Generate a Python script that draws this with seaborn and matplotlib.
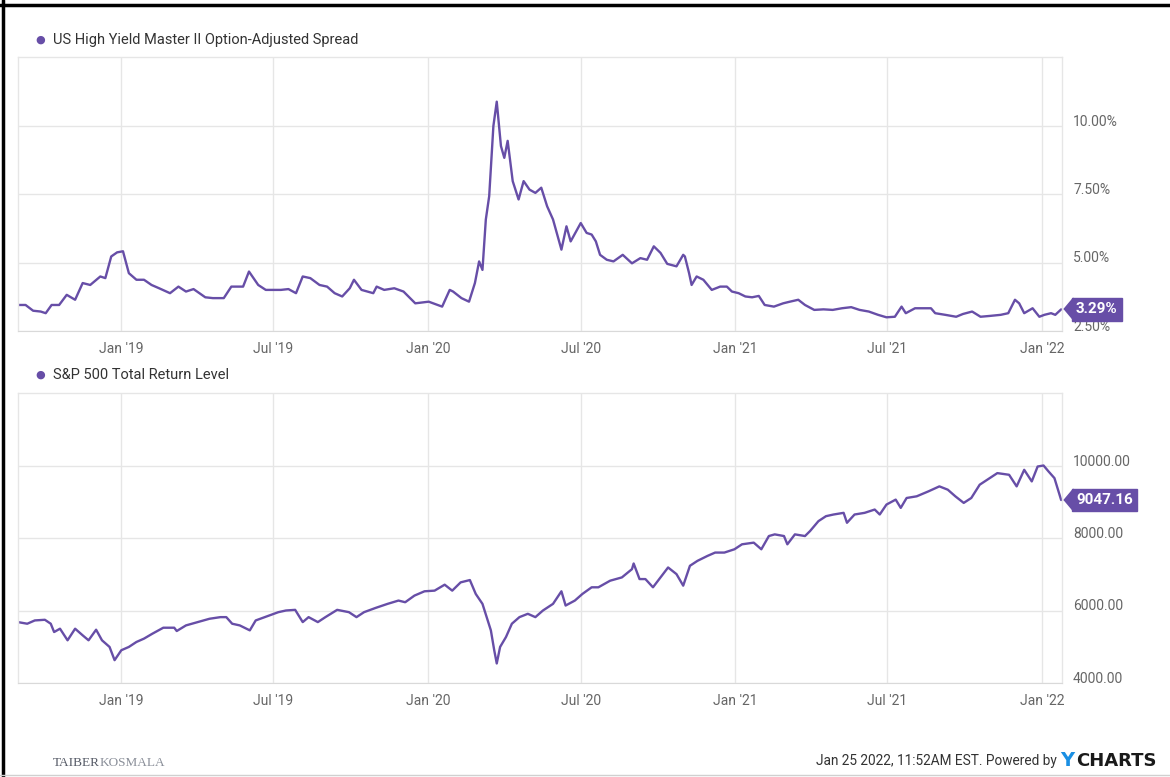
import pandas as pd
import seaborn as sns
import matplotlib.pyplot as plt
import matplotlib.dates as mdates
import matplotlib.transforms as mtransforms
from matplotlib.lines import Line2D

# --- data ---
hy_dates = [
    "2018-08-31", "2018-09-09", "2018-09-18", "2018-09-27", "2018-10-03", "2018-10-10",
    "2018-10-19", "2018-10-28", "2018-11-07", "2018-11-16", "2018-11-25", "2018-12-07",
    "2018-12-13", "2018-12-20", "2018-12-27", "2019-01-03", "2019-01-10", "2019-01-19",
    "2019-01-28", "2019-02-06", "2019-02-15", "2019-02-28", "2019-03-10", "2019-03-19",
    "2019-03-28", "2019-04-11", "2019-04-20", "2019-05-03", "2019-05-12", "2019-05-26",
    "2019-06-02", "2019-06-13", "2019-06-22", "2019-07-10", "2019-07-19", "2019-07-28",
    "2019-08-05", "2019-08-14", "2019-08-25", "2019-09-03", "2019-09-12", "2019-09-21",
    "2019-09-30", "2019-10-05", "2019-10-14", "2019-10-28", "2019-11-01", "2019-11-10",
    "2019-11-22", "2019-12-03", "2019-12-17", "2020-01-02", "2020-01-18", "2020-01-27",
    "2020-01-31", "2020-02-10", "2020-02-19", "2020-02-26", "2020-03-02", "2020-03-06",
    "2020-03-10", "2020-03-14", "2020-03-19", "2020-03-23", "2020-03-28", "2020-04-01",
    "2020-04-05", "2020-04-11", "2020-04-18", "2020-04-24", "2020-05-01", "2020-05-08",
    "2020-05-15", "2020-05-22", "2020-05-29", "2020-06-08", "2020-06-14", "2020-06-19",
    "2020-07-01", "2020-07-08", "2020-07-14", "2020-07-19", "2020-07-24", "2020-08-01",
    "2020-08-09", "2020-08-20", "2020-08-31", "2020-09-10", "2020-09-18", "2020-09-26",
    "2020-10-04", "2020-10-12", "2020-10-23", "2020-10-31", "2020-11-02", "2020-11-07",
    "2020-11-10", "2020-11-16", "2020-11-24", "2020-12-04", "2020-12-14", "2020-12-22",
    "2020-12-28", "2021-01-05", "2021-01-13", "2021-01-21", "2021-01-29", "2021-02-05",
    "2021-02-16", "2021-02-27", "2021-03-07", "2021-03-17", "2021-03-25", "2021-04-05",
    "2021-04-16", "2021-04-27", "2021-05-08", "2021-05-19", "2021-05-29", "2021-06-09",
    "2021-06-20", "2021-06-30", "2021-07-10", "2021-07-18", "2021-07-23", "2021-08-03",
    "2021-08-14", "2021-08-22", "2021-08-27", "2021-09-08", "2021-09-21", "2021-09-29",
    "2021-10-10", "2021-10-20", "2021-10-31", "2021-11-13", "2021-11-22", "2021-11-30",
    "2021-12-05", "2021-12-11", "2021-12-21", "2021-12-29", "2022-01-04", "2022-01-12",
    "2022-01-17", "2022-01-24",
]
hy_values = [
    3.45, 3.45, 3.24, 3.21, 3.15, 3.45,
    3.45, 3.82, 3.64, 4.25, 4.18, 4.49,
    4.43, 5.22, 5.37, 5.41, 4.61, 4.37,
    4.37, 4.18, 4.06, 3.88, 4.12, 3.94,
    4.03, 3.73, 3.70, 3.70, 4.12, 4.12,
    4.67, 4.18, 4.00, 4.00, 4.03, 3.88,
    4.49, 4.43, 4.18, 4.12, 3.88, 3.76,
    4.06, 4.37, 4.00, 3.88, 4.12, 4.00,
    4.06, 3.94, 3.51, 3.57, 3.39, 4.00,
    3.94, 3.70, 3.57, 4.25, 5.04, 4.73,
    6.57, 7.42, 9.98, 10.87, 9.25, 8.82,
    9.44, 7.97, 7.30, 7.97, 7.66, 7.54,
    7.73, 7.05, 6.57, 5.47, 6.32, 5.77,
    6.44, 6.08, 6.02, 5.77, 5.28, 5.10,
    5.04, 5.28, 4.97, 5.16, 5.10, 5.59,
    5.35, 4.95, 4.86, 5.28, 5.22, 4.61,
    4.18, 4.49, 4.37, 4.00, 4.12, 4.12,
    3.94, 3.88, 3.76, 3.73, 3.78, 3.45,
    3.39, 3.51, 3.57, 3.64, 3.45, 3.27,
    3.29, 3.27, 3.33, 3.37, 3.27, 3.21,
    3.09, 3.00, 3.02, 3.39, 3.15, 3.33,
    3.33, 3.33, 3.15, 3.09, 3.02, 3.12,
    3.21, 3.02, 3.05, 3.09, 3.15, 3.64,
    3.51, 3.15, 3.33, 3.02, 3.09, 3.15,
    3.09, 3.29,
]

spx_dates = [
    "2018-08-31", "2018-09-11", "2018-09-20", "2018-10-02", "2018-10-09", "2018-10-13",
    "2018-10-20", "2018-10-29", "2018-11-07", "2018-11-16", "2018-11-23", "2018-12-02",
    "2018-12-09", "2018-12-18", "2018-12-24", "2019-01-01", "2019-01-10", "2019-01-19",
    "2019-01-28", "2019-02-07", "2019-02-20", "2019-03-05", "2019-03-08", "2019-03-19",
    "2019-04-02", "2019-04-16", "2019-04-29", "2019-05-06", "2019-05-13", "2019-05-22",
    "2019-06-03", "2019-06-10", "2019-06-23", "2019-07-07", "2019-07-16", "2019-07-27",
    "2019-08-05", "2019-08-12", "2019-08-23", "2019-09-01", "2019-09-15", "2019-09-29",
    "2019-10-08", "2019-10-17", "2019-10-31", "2019-11-14", "2019-11-27", "2019-12-05",
    "2019-12-16", "2019-12-28", "2020-01-09", "2020-01-21", "2020-01-30", "2020-02-09",
    "2020-02-20", "2020-02-27", "2020-03-06", "2020-03-11", "2020-03-16", "2020-03-20",
    "2020-03-23", "2020-03-27", "2020-04-03", "2020-04-10", "2020-04-19", "2020-04-29",
    "2020-05-08", "2020-05-17", "2020-05-29", "2020-06-08", "2020-06-13", "2020-06-24",
    "2020-07-03", "2020-07-14", "2020-07-22", "2020-08-05", "2020-08-19", "2020-08-31",
    "2020-09-02", "2020-09-09", "2020-09-16", "2020-09-25", "2020-10-04", "2020-10-13",
    "2020-10-23", "2020-10-31", "2020-11-08", "2020-11-17", "2020-11-29", "2020-12-08",
    "2020-12-19", "2020-12-31", "2021-01-09", "2021-01-23", "2021-02-01", "2021-02-10",
    "2021-02-17", "2021-02-28", "2021-03-04", "2021-03-13", "2021-03-25", "2021-03-31",
    "2021-04-10", "2021-04-19", "2021-04-28", "2021-05-10", "2021-05-14", "2021-05-23",
    "2021-06-04", "2021-06-16", "2021-06-22", "2021-06-30", "2021-07-11", "2021-07-17",
    "2021-07-24", "2021-08-05", "2021-08-19", "2021-09-01", "2021-09-11", "2021-09-20",
    "2021-09-30", "2021-10-09", "2021-10-19", "2021-10-28", "2021-11-09", "2021-11-23",
    "2021-12-02", "2021-12-11", "2021-12-20", "2021-12-27", "2022-01-03", "2022-01-09",
    "2022-01-16", "2022-01-24",
]
spx_values = [
    5680, 5635, 5726, 5744, 5635, 5406,
    5498, 5178, 5498, 5315, 5178, 5470,
    5178, 4995, 4630, 4904, 4995, 5132,
    5224, 5360, 5525, 5525, 5434, 5589,
    5680, 5772, 5817, 5817, 5635, 5589,
    5452, 5726, 5836, 5954, 6000, 6018,
    5680, 5817, 5680, 5817, 6018, 5954,
    5817, 5954, 6073, 6183, 6274, 6228,
    6411, 6530, 6548, 6712, 6548, 6776,
    6840, 6457, 6183, 5817, 5452, 4904,
    4539, 4995, 5269, 5635, 5817, 5909,
    5817, 6000, 6183, 6530, 6137, 6274,
    6457, 6640, 6640, 6822, 6913, 7141,
    7297, 6867, 6867, 6640, 6913, 7187,
    7004, 6685, 7233, 7370, 7507, 7598,
    7598, 7689, 7826, 7872, 7689, 8054,
    8100, 8054, 7826, 8100, 8054, 8191,
    8465, 8602, 8648, 8694, 8420, 8648,
    8694, 8785, 8648, 8922, 9059, 8831,
    9104, 9150, 9287, 9424, 9333, 9150,
    8968, 9104, 9470, 9607, 9790, 9744,
    9424, 9881, 9561, 9972, 10000, 9835,
    9652, 9047.16,
]

hy = pd.DataFrame({"date": pd.to_datetime(hy_dates), "value": hy_values})
spx = pd.DataFrame({"date": pd.to_datetime(spx_dates), "value": spx_values})

purple = "#674ea7"
grid_c = "#e6e6e6"
label_c = "#666666"

sns.set_style("white")
plt.rcParams["font.family"] = ["Roboto", "DejaVu Sans"]

W, H = 1170, 777
fig = plt.figure(figsize=(W / 100, H / 100), dpi=100)


def box(l, t, r, b):
    return [l / W, 1 - b / H, (r - l) / W, (b - t) / H]


ax1 = fig.add_axes(box(18, 57, 1062, 331))
ax2 = fig.add_axes(box(18, 393, 1062, 683))

xmin, xmax = pd.Timestamp("2018-08-31"), pd.Timestamp("2022-01-25")

panels = [
    (ax1, hy, "US High Yield Master II Option-Adjusted Spread", (2.5, 12.5),
     [2.5, 5.0, 7.5, 10.0], lambda v: f"{v:.2f}%", f"{hy_values[-1]:.2f}%", 40),
    (ax2, spx, "S&P 500 Total Return Level", (4000, 12000),
     [4000, 6000, 8000, 10000], lambda v: f"{v:.2f}", f"{spx_values[-1]:.2f}", 375),
]

for ax, df, title, ylim, yticks, fmt, tag, title_y in panels:
    sns.lineplot(data=df, x="date", y="value", ax=ax, color=purple, linewidth=1.7)
    ax.set_xlim(xmin, xmax)
    ax.set_ylim(*ylim)
    ax.set_yticks(yticks)
    ax.set_yticklabels([fmt(v) for v in yticks])
    ax.yaxis.tick_right()
    ax.xaxis.set_major_locator(mdates.MonthLocator(bymonth=[1, 7]))
    ax.xaxis.set_major_formatter(mdates.DateFormatter("%b '%y"))
    ax.tick_params(axis="x", length=0, pad=8, labelsize=10, labelcolor=label_c)
    ax.tick_params(axis="y", length=0, pad=8, labelsize=10, labelcolor=label_c)
    for lbl in ax.get_yticklabels():
        lbl.set_va("baseline")
    ax.grid(True, color=grid_c, linewidth=1)
    ax.set_xlabel("")
    ax.set_ylabel("")
    for s in ["left", "top", "right"]:
        ax.spines[s].set_color(grid_c)
        ax.spines[s].set_linewidth(1)
    ax.spines["bottom"].set_color("#d9d9d9")

    # value tag at the right edge
    last = df["value"].iloc[-1]
    base = mtransforms.blended_transform_factory(ax.transAxes, ax.transData)
    tri = mtransforms.offset_copy(base, fig=fig, x=5.5, y=0, units="dots")
    ax.plot([1], [last], transform=tri, marker=[(-0.42, 0), (0.42, 1), (0.42, -1)],
            markersize=16, color=purple, clip_on=False, zorder=10)
    ax.annotate(tag, xy=(1, last), xycoords=base, xytext=(14, 0), textcoords="offset pixels",
                ha="left", va="center", color="white", fontsize=11, fontweight="bold",
                bbox=dict(boxstyle="square,pad=0.28", fc=purple, ec=purple),
                annotation_clip=False, zorder=10)

    # series label
    fig.text(40 / W, 1 - title_y / H, "●", color=purple, fontsize=8, ha="center", va="center")
    fig.text(53 / W, 1 - title_y / H, title, color="#333333", fontsize=10.5, ha="left", va="center")

# footer
fig.text(1057 / W, 1 - 761 / H, "Jan 25 2022, 11:52AM EST. Powered by", color="#333333",
         fontsize=9.8, ha="right", va="center")
fig.text(1060 / W, 1 - 761 / H, "Y", color="#1a8fe3", fontsize=14, fontweight="bold",
         ha="left", va="center", family="DejaVu Sans")
fig.text(1076 / W, 1 - 761 / H, "CHARTS", color="#1a1a1a", fontsize=13, fontweight="bold",
         ha="left", va="center", family="DejaVu Sans")
fig.text(53 / W, 1 - 763 / H, "TAIBER", color="#555a66", fontsize=9.5, ha="left",
         va="center", family="Liberation Serif")
fig.text(100 / W, 1 - 763 / H, "KOSMALA", color="#8a8f99", fontsize=9.5, ha="left",
         va="center", family="Liberation Serif")

# screenshot frame
fig.add_artist(Line2D([0, 1], [1 - 5 / H, 1 - 5 / H], color="black", linewidth=2.5))
fig.add_artist(Line2D([3 / W, 3 / W], [0, 1], color="black", linewidth=2.5))
fig.add_artist(Line2D([0, 1], [1 - 775 / H, 1 - 775 / H], color="#d0d0d0", linewidth=1))

fig.savefig("out.png", dpi=100)
